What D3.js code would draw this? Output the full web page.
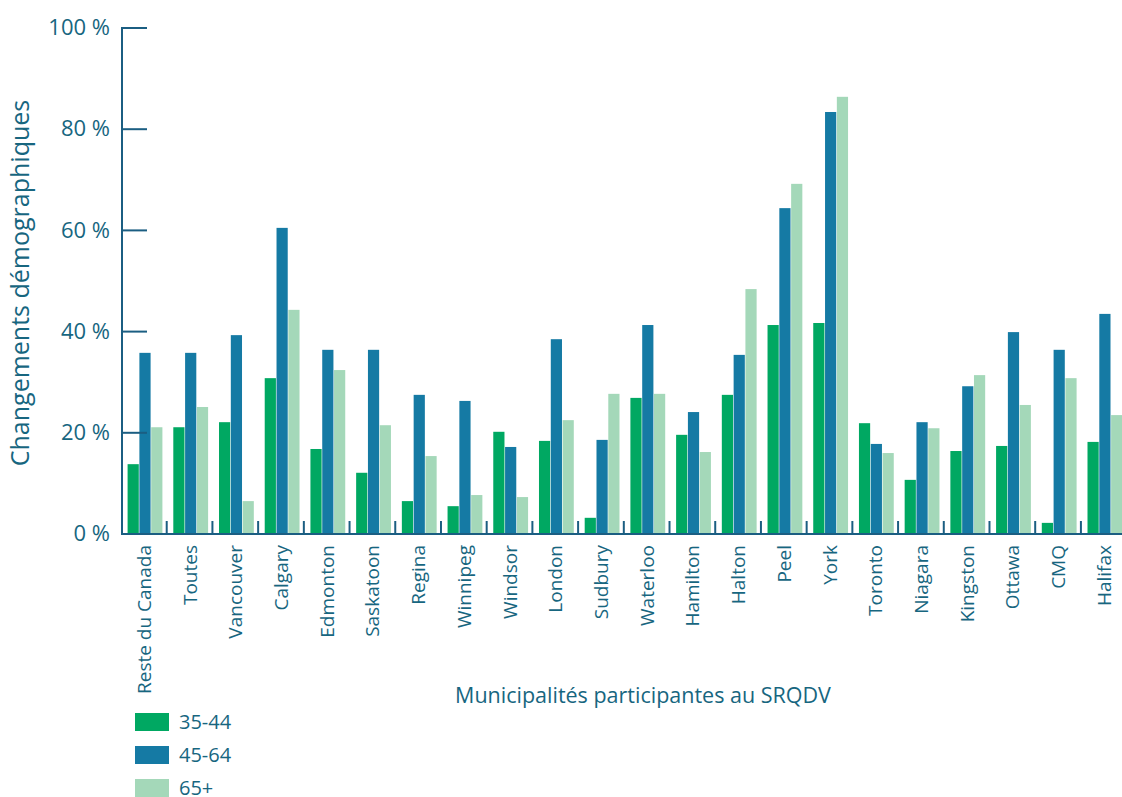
<!DOCTYPE html>
<html>
<head>
<meta charset="utf-8">
<script src="https://cdn.jsdelivr.net/npm/d3@7"></script>
<style>
  body { margin: 0; background: #fff; }
  text { font-family: "Open Sans", "Noto Sans", sans-serif; fill: #17667f; }
</style>
</head>
<body>
<svg id="chart" width="1122" height="797"></svg>
<script>
const categories = ["Reste du Canada", "Toutes", "Vancouver", "Calgary", "Edmonton", "Saskatoon",
  "Regina", "Winnipeg", "Windsor", "London", "Sudbury", "Waterloo", "Hamilton", "Halton",
  "Peel", "York", "Toronto", "Niagara", "Kingston", "Ottawa", "CMQ", "Halifax"];
const seriesNames = ["35-44", "45-64", "65+"];
const age3544 = [13.8, 21.1, 22.1, 30.8, 16.8, 12.1, 6.5, 5.5, 20.2, 18.4, 3.2, 26.9, 19.6, 27.5, 41.3, 41.7, 21.9, 10.7, 16.4, 17.4, 2.2, 18.2];
const age4564 = [35.8, 35.8, 39.3, 60.5, 36.4, 36.4, 27.5, 26.3, 17.2, 38.5, 18.6, 41.3, 24.1, 35.4, 64.4, 83.4, 17.8, 22.1, 29.2, 39.9, 36.4, 43.5];
const age65 = [21.1, 25.1, 6.5, 44.3, 32.4, 21.5, 15.4, 7.7, 7.3, 22.5, 27.7, 27.7, 16.2, 48.4, 69.2, 86.4, 16.0, 20.9, 31.4, 25.5, 30.8, 23.5];
const yTicks = [0, 20, 40, 60, 80, 100];

const colors = ["#00a862", "#157aa4", "#a4d8b9"];
const axisColor = "#1b5e82";
const series = [age3544, age4564, age65];

const svg = d3.select("#chart");
const x0 = 121, groupW = 45.71;
const x = d3.scaleBand().domain(categories).range([x0, x0 + groupW * categories.length]).paddingInner(0).paddingOuter(0);
const xs = d3.scaleBand().domain(seriesNames).range([6, 42]).padding(0.05);
const y = d3.scaleLinear().domain([0, 100]).range([534, 28]);

// bars
const groups = svg.append("g").selectAll("g").data(categories).join("g")
  .attr("transform", d => `translate(${x(d)},0)`);
groups.selectAll("rect")
  .data((d, i) => series.map((s, k) => ({ k, v: s[i] })))
  .join("rect")
  .attr("x", d => xs(seriesNames[d.k]))
  .attr("width", 11.2)
  .attr("y", d => y(d.v))
  .attr("height", d => y(0) - y(d.v))
  .attr("fill", d => colors[d.k]);

// x axis line
svg.append("line").attr("x1", 121).attr("x2", 1122).attr("y1", 534).attr("y2", 534)
  .attr("stroke", axisColor).attr("stroke-width", 2.2);
// group separator ticks
svg.append("g").selectAll("line").data(categories.slice(1)).join("line")
  .attr("x1", d => x(d)).attr("x2", d => x(d))
  .attr("y1", 521).attr("y2", 534)
  .attr("stroke", axisColor).attr("stroke-width", 2);

// y axis
svg.append("line").attr("x1", 122).attr("x2", 122).attr("y1", 27).attr("y2", 535)
  .attr("stroke", axisColor).attr("stroke-width", 2);
const yt = svg.append("g").selectAll("g").data(yTicks).join("g")
  .attr("transform", d => `translate(0,${y(d)})`);
yt.append("line").attr("x1", 122).attr("x2", 147).attr("stroke", axisColor).attr("stroke-width", 2);
yt.append("text").attr("x", 110).attr("dy", "0.33em").attr("text-anchor", "end")
  .attr("font-size", 22).text(d => d + " %");

// category labels
svg.append("g").selectAll("text").data(categories).join("text")
  .attr("transform", d => `translate(${x(d) + x.bandwidth() / 2 + 7},545) rotate(-90)`)
  .attr("text-anchor", "end")
  .attr("font-size", 19)
  .text(d => d);

// axis titles
svg.append("text").attr("transform", "translate(29,283) rotate(-90)")
  .attr("text-anchor", "middle").attr("font-size", 25).text("Changements démographiques");
svg.append("text").attr("x", 643).attr("y", 703).attr("text-anchor", "middle")
  .attr("font-size", 21.5).text("Municipalités participantes au SRQDV");

// legend
const lg = svg.append("g").selectAll("g").data(seriesNames).join("g")
  .attr("transform", (d, i) => `translate(135,${713 + i * 33})`);
lg.append("rect").attr("width", 34).attr("height", 18).attr("fill", (d, i) => colors[i]);
lg.append("text").attr("x", 44).attr("y", 9).attr("dy", "0.33em").attr("font-size", 20).text(d => d);
</script>
</body>
</html>
